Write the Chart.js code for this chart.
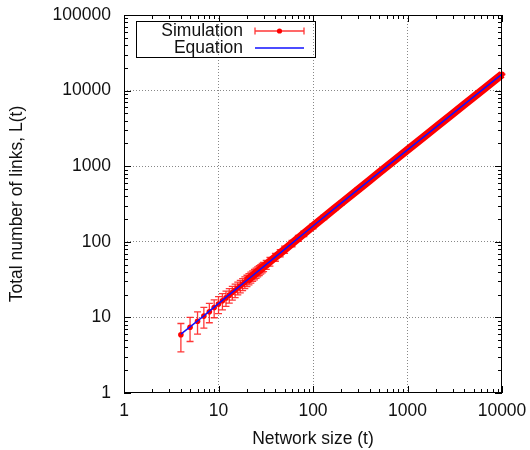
<!DOCTYPE html>
<html>
<head>
<meta charset="utf-8">
<script src="https://cdn.jsdelivr.net/npm/chart.js@4.4.1/dist/chart.umd.min.js"></script>
<style>
  html, body { margin: 0; padding: 0; background: #fff; }
  #wrap { width: 530px; height: 450px; }
</style>
</head>
<body>
<div id="wrap"><canvas id="links-chart" width="530" height="450"></canvas></div>
<script>
// network size t, simulated total links L(t) and its error bar
const simT = [4, 5, 6, 7, 8, 9, 10, 11, 12, 13, 14, 15, 16, 17, 18, 19, 20, 21, 22, 23, 24, 25, 26, 27, 28, 29, 30,
  32, 35, 40, 45, 50, 60, 70, 80, 100, 130, 170, 200, 300, 400, 500, 700, 1000, 1500, 2000, 3000, 4000, 5000, 7000, 10000];
const simL = [5.9, 7.4, 8.9, 10.4, 11.9, 13.5, 15.0, 16.6, 18.1, 19.7, 21.3, 22.9, 24.5, 26.0, 27.6, 29.2, 30.8, 32.4, 34.0, 35.6, 37.2, 38.8, 40.4, 42.0, 43.6, 45.2, 46.8,
  50.0, 54.9, 62.9, 71.0, 79.0, 95.3, 111.6, 128.0, 160.8, 210, 276, 326, 490, 655, 820, 1148, 1641, 2462, 3284, 4928, 6570, 8215, 11500, 16440];
const simErr = [2.4, 2.6, 2.9, 3.2, 3.4, 3.6, 3.8, 4.0, 4.1, 4.3, 4.4, 4.6, 4.7, 4.9, 5.0, 5.2, 5.3, 5.5, 5.6, 5.7, 5.8, 6.0, 6.1, 6.2, 6.3, 6.4, 6.6,
  6.8, 7.1, 7.6, 8.0, 8.5, 9.3, 10.0, 10.7, 12.0, 13.7, 15.6, 17, 20.8, 24, 27, 32, 38, 46, 54, 66, 76, 85, 100, 120];

// analytical curve
const eqT = [4, 5, 6, 7, 8, 10, 12, 15, 20, 30, 50, 100, 200, 500, 1000, 2000, 5000, 10000];
const eqL = [6.0, 7.5, 9.0, 10.5, 12.1, 15.2, 18.4, 23.1, 31.0, 47.0, 79.3, 161.8, 327, 822, 1647, 3296, 8245, 16490];

const decadesX = [1, 10, 100, 1000, 10000];
const decadesY = [1, 10, 100, 1000, 10000, 100000];

const FONT = '"Liberation Sans", Arial, sans-serif';
const FONT_SIZE = 17.5;
const RED = '#ff0000';
const BLUE = '#1010ff';

const errorBars = {
  id: 'errorBars',
  beforeDatasetsDraw(chart) {
    const { ctx, scales: { x, y } } = chart;
    ctx.save();
    ctx.strokeStyle = 'rgba(255, 20, 20, 0.85)';
    ctx.lineWidth = 1.3;
    simT.forEach((t, i) => {
      const px = x.getPixelForValue(t);
      const top = y.getPixelForValue(simL[i] + simErr[i]);
      const bot = y.getPixelForValue(simL[i] - simErr[i]);
      ctx.beginPath();
      ctx.moveTo(px, top); ctx.lineTo(px, bot);
      ctx.moveTo(px - 3.5, top); ctx.lineTo(px + 3.5, top);
      ctx.moveTo(px - 3.5, bot); ctx.lineTo(px + 3.5, bot);
      ctx.stroke();
    });
    ctx.restore();
  }
};

const frameAndKey = {
  id: 'frameAndKey',
  afterDraw(chart) {
    const { ctx, chartArea: a, scales: { x, y } } = chart;
    ctx.save();
    ctx.strokeStyle = '#000';
    ctx.lineWidth = 1;
    ctx.beginPath();
    // tics on all four sides, pointing inward
    decadesX.forEach((d) => {
      for (let k = 1; k <= 9; k++) {
        const v = d * k;
        if (v > decadesX[decadesX.length - 1]) break;
        const px = Math.round(x.getPixelForValue(v)) + 0.5;
        const len = k === 1 ? 7 : 4;
        ctx.moveTo(px, a.bottom); ctx.lineTo(px, a.bottom - len);
        ctx.moveTo(px, a.top); ctx.lineTo(px, a.top + len);
      }
    });
    decadesY.forEach((d) => {
      for (let k = 1; k <= 9; k++) {
        const v = d * k;
        if (v > decadesY[decadesY.length - 1]) break;
        const py = Math.round(y.getPixelForValue(v)) + 0.5;
        const len = k === 1 ? 7 : 4;
        ctx.moveTo(a.left, py); ctx.lineTo(a.left + len, py);
        ctx.moveTo(a.right, py); ctx.lineTo(a.right - len, py);
      }
    });
    ctx.stroke();
    ctx.strokeRect(a.left + 0.5, a.top + 0.5, a.right - a.left - 1, a.bottom - a.top - 1);

    // key box in the top left corner
    const kx = a.left + 12, ky = a.top + 6;
    ctx.strokeRect(kx + 0.5, ky + 0.5, 179, 36);
    ctx.font = FONT_SIZE + 'px ' + FONT;
    ctx.fillStyle = '#111';
    ctx.textAlign = 'right';
    ctx.textBaseline = 'middle';
    const labels = chart.data.datasets.map(ds => ds.label);
    ctx.fillText(labels[0], kx + 107, ky + 10);
    ctx.fillText(labels[1], kx + 107, ky + 27);

    const sx0 = kx + 119, sx1 = kx + 168, r1 = ky + 10, r2 = ky + 27;
    ctx.strokeStyle = 'rgba(255, 20, 20, 0.85)';
    ctx.lineWidth = 1.3;
    ctx.beginPath();
    ctx.moveTo(sx0, r1); ctx.lineTo(sx1, r1);
    ctx.moveTo(sx0, r1 - 3.5); ctx.lineTo(sx0, r1 + 3.5);
    ctx.moveTo(sx1, r1 - 3.5); ctx.lineTo(sx1, r1 + 3.5);
    ctx.stroke();
    ctx.fillStyle = RED;
    ctx.beginPath();
    ctx.arc((sx0 + sx1) / 2, r1, 2.6, 0, Math.PI * 2);
    ctx.fill();
    ctx.strokeStyle = BLUE;
    ctx.lineWidth = 1.5;
    ctx.beginPath();
    ctx.moveTo(sx0, r2); ctx.lineTo(sx1, r2);
    ctx.stroke();
    ctx.restore();
  }
};

const ctx = document.getElementById('links-chart').getContext('2d');
new Chart(ctx, {
  type: 'line',
  data: {
    datasets: [
      {
        label: 'Simulation',
        data: simT.map((t, i) => ({ x: t, y: simL[i] })),
        order: 1,
        borderColor: RED,
        borderWidth: 8,
        borderCapStyle: 'butt',
        segment: {
          borderColor: (c) => (c.p0.parsed.x >= 20 ? RED : 'rgba(0, 0, 0, 0)'),
        },
        pointRadius: 2.8,
        pointBackgroundColor: RED,
        pointBorderWidth: 0,
        tension: 0,
        clip: false,
      },
      {
        label: 'Equation',
        data: eqT.map((t, i) => ({ x: t, y: eqL[i] })),
        order: 0,
        borderColor: BLUE,
        borderWidth: 1.5,
        pointRadius: 0,
        tension: 0,
        clip: false,
      },
    ],
  },
  options: {
    responsive: false,
    animation: false,
    devicePixelRatio: 1,
    layout: { padding: { left: 0, top: 15, right: 28, bottom: 0 } },
    plugins: {
      legend: { display: false },
      tooltip: { enabled: false },
    },
    scales: {
      x: {
        type: 'logarithmic',
        min: 1,
        max: 10000,
        afterBuildTicks: (s) => { s.ticks = decadesX.map(v => ({ value: v })); },
        afterFit: (s) => { s.height = 57; s.paddingLeft = 0; s.paddingRight = 0; },
        grid: {
          color: (c) => (c.tick && c.tick.value > 1 && c.tick.value < 10000 ? '#888' : 'rgba(0, 0, 0, 0)'),
          lineWidth: 1,
          drawTicks: false,
        },
        border: { display: false, dash: [1, 2] },
        ticks: {
          autoSkip: false,
          maxRotation: 0,
          padding: 8,
          color: '#111',
          font: { family: FONT, size: FONT_SIZE },
          callback: (v) => String(v),
        },
        title: {
          display: true,
          text: 'Network size (t)',
          color: '#111',
          font: { family: FONT, size: FONT_SIZE },
          padding: { top: 0, bottom: 0 },
        },
      },
      y: {
        type: 'logarithmic',
        min: 1,
        max: 100000,
        afterBuildTicks: (s) => { s.ticks = decadesY.map(v => ({ value: v })); },
        afterFit: (s) => { s.width = 124; s.paddingTop = 0; s.paddingBottom = 0; },
        grid: {
          color: (c) => (c.tick && c.tick.value > 1 && c.tick.value < 100000 ? '#888' : 'rgba(0, 0, 0, 0)'),
          lineWidth: 1,
          drawTicks: false,
        },
        border: { display: false, dash: [1, 2] },
        ticks: {
          autoSkip: false,
          padding: 13,
          color: '#111',
          font: { family: FONT, size: FONT_SIZE },
          callback: (v) => String(v),
        },
        title: {
          display: true,
          text: 'Total number of links, L(t)',
          color: '#111',
          font: { family: FONT, size: FONT_SIZE },
          padding: { top: 7, bottom: 0 },
        },
      },
    },
  },
  plugins: [errorBars, frameAndKey],
});
</script>
</body>
</html>
